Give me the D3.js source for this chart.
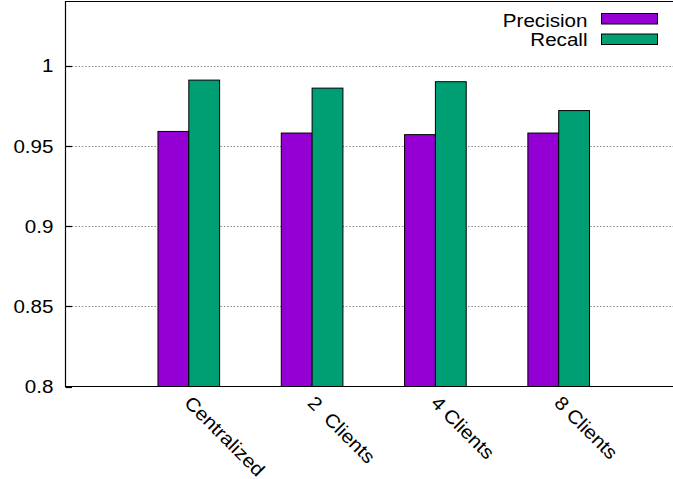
<!DOCTYPE html>
<html>
<head>
<meta charset="utf-8">
<script src="https://cdn.jsdelivr.net/npm/d3@7"></script>
<style>
  html, body { margin: 0; padding: 0; background: #fff; }
  svg { display: block; }
  text { font-family: "Liberation Sans", Arial, Helvetica, sans-serif; fill: #000; white-space: pre; }
</style>
</head>
<body>
<svg id="chart" width="673" height="479"></svg>
<script>
// Detection quality per training setup
const categories = ["Centralized", "2  Clients", "4 Clients", "8 Clients"];
const precision = [0.959, 0.958, 0.957, 0.958];
const recall = [0.991, 0.986, 0.990, 0.972];
const seriesNames = ["Precision", "Recall"];
const seriesColors = ["#9400d3", "#009e73"];
const yTicks = [0.8, 0.85, 0.9, 0.95, 1];
const yTickLabels = ["0.8", "0.85", "0.9", "0.95", "1"];

const svg = d3.select("#chart");
const plotLeft = 65.5, plotTop = 1.5, plotBottom = 386.5, plotRight = 682;
const fontSize = 18.9, stretch = 1.09;

const x = d3.scaleLinear().domain([-1, 4]).range([plotLeft, plotRight]);
const y = d3.scaleLinear().domain([0.8, 1.04]).range([plotBottom, plotTop]);
const barW = x(0.25) - x(0);

// grid lines (dotted) behind the bars
svg.append("g").selectAll("line").data(yTicks.slice(1)).join("line")
  .attr("x1", plotLeft + 6.5).attr("x2", 673)
  .attr("y1", d => Math.round(y(d)) + 0.5).attr("y2", d => Math.round(y(d)) + 0.5)
  .attr("stroke", "#8a8a8a").attr("stroke-width", 1)
  .attr("stroke-dasharray", "1.5,1.8");

// bars
const series = [precision, recall];
series.forEach((vals, si) => {
  svg.append("g").selectAll("rect").data(vals).join("rect")
    .attr("x", (d, i) => x(i) + (si - 1) * barW)
    .attr("y", d => y(d))
    .attr("width", barW)
    .attr("height", d => y(0.8) - y(d))
    .attr("fill", seriesColors[si])
    .attr("stroke", "#000").attr("stroke-width", 1);
});

// border: left, bottom, top
svg.append("path")
  .attr("d", `M${plotRight},${plotTop}H${plotLeft}V${plotBottom}H${plotRight}`)
  .attr("fill", "none").attr("stroke", "#000").attr("stroke-width", 1.2);

// y ticks and labels
const yAxis = svg.append("g");
yAxis.selectAll("line").data(yTicks).join("line")
  .attr("x1", plotLeft).attr("x2", plotLeft + 6.5)
  .attr("y1", d => Math.round(y(d)) + 0.5).attr("y2", d => Math.round(y(d)) + 0.5)
  .attr("stroke", "#000").attr("stroke-width", 1.2);
yAxis.selectAll("text").data(yTicks).join("text")
  .attr("transform", d => `translate(53.5,${y(d) + 6.8}) scale(${stretch},1)`)
  .attr("text-anchor", "end")
  .attr("font-size", fontSize)
  .text((d, i) => yTickLabels[i]);

// x category labels, rotated
svg.append("g").selectAll("text").data(categories).join("text")
  .attr("transform", (d, i) => `translate(${x(i) - 5.5},${404}) rotate(45) scale(${stretch},1)`)
  .attr("font-size", fontSize)
  .text(d => d);

// legend
const legend = svg.append("g");
seriesNames.forEach((name, i) => {
  const by = 26.7 + i * 19.5;
  legend.append("text")
    .attr("transform", `translate(587.5,${by}) scale(${stretch},1)`)
    .attr("text-anchor", "end")
    .attr("font-size", fontSize)
    .text(name);
  legend.append("rect")
    .attr("x", 601.5).attr("y", 13.5 + i * 20.5)
    .attr("width", 56).attr("height", 10.5)
    .attr("fill", seriesColors[i])
    .attr("stroke", "#000").attr("stroke-width", 1);
});
</script>
</body>
</html>
